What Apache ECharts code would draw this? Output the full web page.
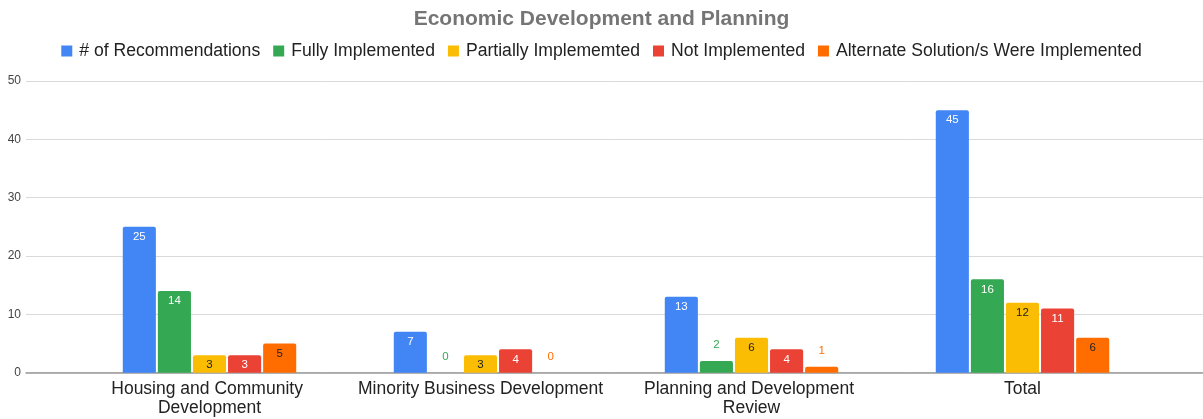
<!DOCTYPE html>
<html><head><meta charset="utf-8">
<script src="https://cdn.jsdelivr.net/npm/echarts@6/dist/echarts.min.js"></script>
<style>html,body{margin:0;padding:0;background:#fff}#c{width:1203px;height:419px}</style>
</head><body><div id="c"></div>
<script>
const titleText = "Economic Development and Planning";
const categories = ["Housing and Community Development", "Minority Business Development", "Planning and Development Review", "Total"];
const seriesNames = ["# of Recommendations", "Fully Implemented", "Partially Implememted", "Not Implemented", "Alternate Solution/s Were Implemented"];
const recommendations = [25, 7, 13, 45];
const fullyImplemented = [14, 0, 2, 16];
const partiallyImplemented = [3, 3, 6, 12];
const notImplemented = [3, 4, 4, 11];
const alternateSolution = [5, 0, 1, 6];
const yTicks = [0, 10, 20, 30, 40, 50];

const colors = ["#4285F4", "#34A853", "#FBBC04", "#EA4335", "#FF6D01"];
const insideTextColors = ["#ffffff", "#ffffff", "#222222", "#ffffff", "#222222"];
const allValues = [recommendations, fullyImplemented, partiallyImplemented, notImplemented, alternateSolution];
const FONT = "'Liberation Sans', Arial, sans-serif";

const series = allValues.map((vals, si) => ({
  name: seriesNames[si],
  type: 'bar',
  xAxisIndex: 1,
  yAxisIndex: 1,
  barCategoryGap: '36%',
  barGap: '6%',
  itemStyle: { color: colors[si], borderRadius: [2, 2, 0, 0] },
  data: vals.map(v => {
    const inside = v >= 3;
    return {
      value: v,
      label: {
        show: true,
        position: inside ? 'insideTop' : 'top',
        distance: inside ? 4 : 10,
        color: inside ? insideTextColors[si] : colors[si],
        fontSize: 11.5,
        fontFamily: FONT
      }
    };
  })
}));

const chart = echarts.init(document.getElementById('c'), null, { renderer: 'canvas' });
chart.setOption({
  animation: false,
  backgroundColor: '#ffffff',
  color: colors,
  title: {
    text: titleText, left: 'center', top: 4,
    textStyle: { fontFamily: FONT, fontSize: 21, fontWeight: 'bold', color: '#757575' }
  },
  legend: {
    top: 37, left: 'center', itemWidth: 11, itemHeight: 11, itemGap: 13,
    icon: 'rect',
    textStyle: { fontFamily: FONT, fontSize: 17.6, color: '#222222', padding: [0, 0, 0, 2] },
    data: seriesNames
  },
  grid: [
    { left: 26, right: 0, top: 81, bottom: 46.3 },
    { left: 74, right: 45, top: 81, bottom: 46.3 }
  ],
  xAxis: [
    { type: 'value', gridIndex: 0, min: 0, max: 1, axisLabel: { show: false }, axisTick: { show: false },
      splitLine: { show: false }, axisLine: { show: true, lineStyle: { color: '#999999', width: 1.5 } } },
    { type: 'category', gridIndex: 1, data: categories, axisLine: { show: false }, axisTick: { show: false },
      axisLabel: { margin: 7, fontFamily: FONT, fontSize: 17.5, color: '#222222', width: 255, overflow: 'break', lineHeight: 19, interval: 0 } }
  ],
  yAxis: [
    { type: 'value', gridIndex: 0, min: 0, max: 50, interval: 10,
      axisLine: { show: false }, axisTick: { show: false },
      axisLabel: { margin: 5, fontFamily: FONT, fontSize: 12, color: '#444444',
        customValues: yTicks },
      splitLine: { lineStyle: { color: '#d9d9d9', width: 1 } } },
    { type: 'value', gridIndex: 1, min: 0, max: 50, interval: 10, show: false, splitLine: { show: false } }
  ],
  series: series
});
</script></body></html>
